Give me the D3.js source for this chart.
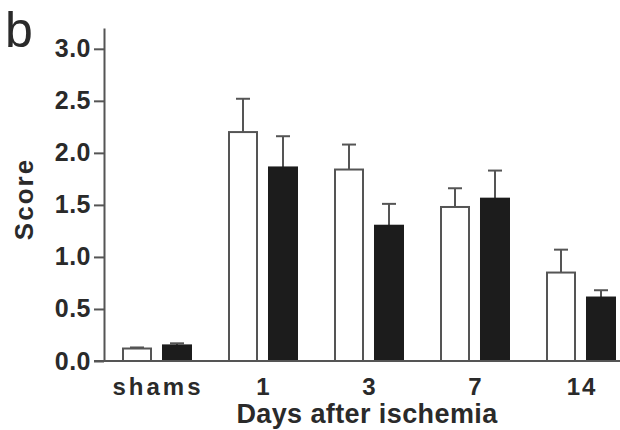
<!DOCTYPE html>
<html><head><meta charset="utf-8">
<script src="https://cdn.jsdelivr.net/npm/d3@7"></script>
<style>body{margin:0;background:#fff}svg{display:block}</style>
</head><body>
<svg id="c" width="620" height="430"></svg>
<script>
const categories = ["shams", "1", "3", "7", "14"];
const series = ["open", "filled"];
const openMeans = [0.12, 2.20, 1.84, 1.48, 0.85];
const openErr   = [0.01, 0.32, 0.24, 0.18, 0.22];
const filledMeans = [0.15, 1.86, 1.30, 1.56, 0.61];
const filledErr   = [0.02, 0.30, 0.21, 0.27, 0.07];
const yTicks = [0, 0.5, 1.0, 1.5, 2.0, 2.5, 3.0];

const svg = d3.select("#c");
const font = "'Liberation Sans', Arial, Helvetica, sans-serif";
const ink = "#2a2a2a", axisCol = "#555";

const y = d3.scaleLinear().domain([0, 3.2]).range([361, 28]);
const x0 = d3.scaleBand().domain(categories).range([104, 634]).paddingInner(0.3585).paddingOuter(0.17925);
const x1 = d3.scaleBand().domain(series).range([0, x0.bandwidth()]).paddingInner(0.3);

const data = [];
categories.forEach((c, i) => {
  data.push({cat: c, s: "open", v: openMeans[i], e: openErr[i]});
  data.push({cat: c, s: "filled", v: filledMeans[i], e: filledErr[i]});
});

// error bars
const eb = svg.append("g").attr("stroke", axisCol).attr("stroke-width", 2).attr("fill", "none");
data.forEach(d => {
  const cx = x0(d.cat) + x1(d.s) + x1.bandwidth() / 2;
  eb.append("line").attr("x1", cx).attr("x2", cx).attr("y1", y(d.v)).attr("y2", y(d.v + d.e));
  eb.append("line").attr("x1", cx - 7).attr("x2", cx + 7).attr("y1", y(d.v + d.e)).attr("y2", y(d.v + d.e));
});

// bars
svg.append("g").selectAll("rect").data(data).join("rect")
  .attr("x", d => x0(d.cat) + x1(d.s))
  .attr("width", x1.bandwidth())
  .attr("y", d => y(d.v))
  .attr("height", d => y(0) - y(d.v))
  .attr("fill", d => d.s === "open" ? "#fff" : "#1c1c1c")
  .attr("stroke", d => d.s === "open" ? "#555" : "#1c1c1c")
  .attr("stroke-width", 2);

// y axis
const ya = svg.append("g").attr("transform", "translate(104,0)")
  .call(d3.axisLeft(y).tickValues(yTicks).tickFormat(d3.format(".1f")).tickSize(10).tickSizeOuter(0));
ya.select(".domain").attr("stroke", axisCol).attr("stroke-width", 2);
ya.selectAll(".tick line").attr("stroke", axisCol).attr("stroke-width", 2);
ya.selectAll(".tick text").attr("x", -13).attr("fill", ink)
  .style("font-family", font).style("font-size", "25px").style("font-weight", "bold")
  .style("letter-spacing", "0.5px");

// x axis
svg.append("line").attr("x1", 94).attr("x2", 620).attr("y1", y(0)).attr("y2", y(0))
  .attr("stroke", axisCol).attr("stroke-width", 2);
svg.append("g").selectAll("text").data(categories).join("text")
  .attr("x", d => x0(d) + x0.bandwidth() / 2 + 1)
  .attr("y", 395)
  .attr("text-anchor", "middle")
  .attr("fill", ink)
  .style("font-family", font).style("font-size", "24px").style("font-weight", "bold")
  .style("letter-spacing", d => d.length > 2 ? "3px" : "2px")
  .text(d => d);

svg.append("text").attr("x", 367).attr("y", 423).attr("text-anchor", "middle").attr("fill", ink)
  .style("font-family", font).style("font-size", "27px").style("font-weight", "bold")
  .style("letter-spacing", "0.4px")
  .text("Days after ischemia");

svg.append("text").attr("transform", "translate(33,199) rotate(-90)").attr("text-anchor", "middle").attr("fill", ink)
  .style("font-family", font).style("font-size", "26px").style("font-weight", "bold")
  .style("letter-spacing", "2px")
  .text("Score");

svg.append("text").attr("x", 5).attr("y", 47).attr("fill", ink)
  .style("font-family", font).style("font-size", "50px")
  .text("b");
</script>
</body></html>
